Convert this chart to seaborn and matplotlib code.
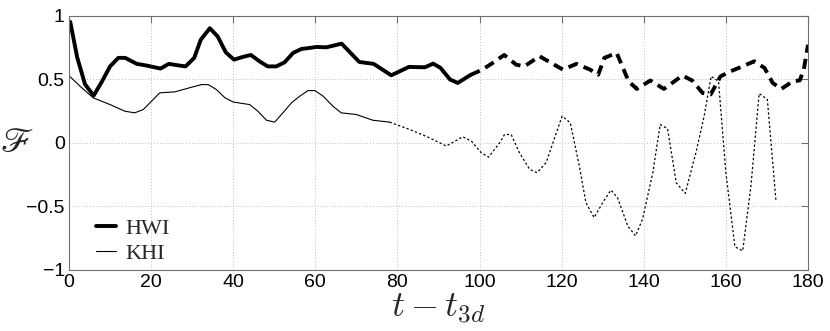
import numpy as np
import pandas as pd
import matplotlib
matplotlib.use("Agg")
import matplotlib.pyplot as plt
import seaborn as sns

# ---- data ----
hwi_t_solid = [0.3, 2.0, 3.9, 6.0, 8.0, 10.0, 12.0, 13.7, 16.5, 19.0, 22.3, 24.3, 26.4, 28.4, 30.5,
               32.1, 34.3, 36.2, 38.2, 40.2, 42.3, 44.3, 46.4, 48.4, 50.5, 52.5, 54.6, 56.6, 58.6,
               60.3, 62.7, 66.4, 70.7, 74.2, 78.5, 82.8, 86.7, 88.7, 90.5, 92.8, 94.7, 97.8]
hwi_y_solid = [0.95, 0.67, 0.46, 0.37, 0.48, 0.60, 0.667, 0.667, 0.62, 0.606, 0.583, 0.62, 0.609, 0.60, 0.667,
               0.81, 0.90, 0.836, 0.71, 0.653, 0.674, 0.69, 0.64, 0.60, 0.60, 0.632, 0.706, 0.737, 0.745,
               0.753, 0.75, 0.779, 0.635, 0.62, 0.53, 0.596, 0.593, 0.622, 0.588, 0.497, 0.47, 0.533]

hwi_t_dash = [97.8, 100.7, 103.2, 106.0, 108.9, 110.9, 114.6, 117.4, 120.3, 123.6, 126.9, 128.9, 130.4,
              133.4, 136.3, 138.3, 141.6, 144.9, 149.4, 151.8, 154.3, 156.3, 158.7, 161.2, 164.0, 166.9,
              169.4, 171.4, 173.5, 176.3, 178.0, 179.0, 180.0]
hwi_y_dash = [0.533, 0.575, 0.627, 0.69, 0.614, 0.60, 0.68, 0.628, 0.575, 0.62, 0.575, 0.535, 0.667,
              0.706, 0.483, 0.423, 0.489, 0.423, 0.528, 0.489, 0.392, 0.38, 0.522, 0.562, 0.60, 0.64,
              0.588, 0.47, 0.423, 0.483, 0.49, 0.58, 0.77]

khi_t_solid = [0.3, 2.7, 5.9, 10.0, 13.6, 16.0, 18.1, 22.1, 25.8, 29.8, 32.3, 33.9, 35.9, 38.0, 40.0,
               44.0, 46.0, 48.1, 50.1, 52.1, 54.2, 56.2, 58.2, 59.9, 61.9, 64.3, 66.3, 70.0, 74.0, 78.1]
khi_y_solid = [0.518, 0.444, 0.353, 0.30, 0.248, 0.235, 0.261, 0.392, 0.40, 0.436, 0.457, 0.457, 0.418, 0.353, 0.32,
               0.30, 0.248, 0.177, 0.162, 0.235, 0.314, 0.366, 0.41, 0.41, 0.366, 0.287, 0.235, 0.222, 0.177, 0.162]

khi_t_dot = [78.1, 83.0, 87.8, 91.9, 95.9, 98.0, 100.4, 102.2, 104.9, 106.1, 107.7, 109.7, 112.2, 114.0,
             116.2, 120.1, 122.1, 124.3, 125.9, 127.9, 130.0, 132.0, 133.6, 136.1, 138.0, 139.7, 142.2,
             144.0, 145.8, 147.9, 150.1, 152.7, 154.7, 156.4, 158.2, 160.0, 162.2, 164.1, 166.1, 168.1,
             170.1, 172.2]
khi_y_dot = [0.162, 0.104, 0.039, -0.026, 0.047, 0.013, -0.078, -0.113, 0.0, 0.065, 0.065, -0.078, -0.209, -0.235,
             -0.157, 0.209, 0.157, -0.183, -0.47, -0.588, -0.47, -0.372, -0.431, -0.654, -0.732, -0.60, -0.235,
             0.144, 0.11, -0.314, -0.398, -0.078, 0.209, 0.522, 0.483, -0.235, -0.818, -0.849, -0.34, 0.387,
             0.34, -0.458]

x_ticks = [0, 20, 40, 60, 80, 100, 120, 140, 160, 180]
y_ticks = [-1, -0.5, 0, 0.5, 1]
y_ticklabels = ["\u22121", "\u22120.5", "0", "0.5", "1"]

# ---- style ----
sns.set_style("white")
plt.rcParams["font.family"] = ["Liberation Sans", "DejaVu Sans"]
plt.rcParams["mathtext.fontset"] = "cm"

fig = plt.figure(figsize=(8.30, 3.31), dpi=100)
ax = fig.add_axes([69 / 830, 1 - 270 / 331, (808 - 69) / 830, (270 - 15.5) / 331])

common = dict(ax=ax, color="black", sort=False, estimator=None, legend=False)
sns.lineplot(x=hwi_t_solid, y=hwi_y_solid, lw=2.8, linestyle="-", **common)
sns.lineplot(x=khi_t_solid, y=khi_y_solid, lw=0.8, linestyle="-", **common)
sns.lineplot(x=hwi_t_dash, y=hwi_y_dash, lw=2.8, linestyle=(0, (2.6, 1.6)), **common)
sns.lineplot(x=khi_t_dot, y=khi_y_dot, lw=0.9, linestyle=(0, (1.8, 1.8)), **common)

ax.set_xlim(0, 180)
ax.set_ylim(-1, 1)
ax.set_xticks(x_ticks)
ax.set_xticklabels([str(v) for v in x_ticks])
ax.set_yticks(y_ticks)
ax.set_yticklabels(y_ticklabels)

ax.grid(True, linestyle=(0, (1, 2)), color="#bdbdbd", linewidth=0.7)
for s in ax.spines.values():
    s.set_visible(True)
    s.set_color("#707070")
    s.set_linewidth(0.8)
ax.tick_params(direction="in", length=5, width=0.8, color="#707070",
               top=True, right=True, labelsize=14, pad=3, labelcolor="black")

ax.set_xlabel(r"$t - t_{3d}$", fontsize=26, labelpad=0)
yl = ax.set_ylabel(r"$\mathscr{F}$", fontsize=25, rotation=0, ha="center", va="center")
yl.set_math_fontfamily("stix")
ax.yaxis.set_label_coords(-0.0704, 0.50)

handles = [ax.lines[0], ax.lines[1]]
leg = ax.legend(handles, ["HWI", "KHI"], loc="lower left", bbox_to_anchor=(0.025, -0.012),
                frameon=False, handlelength=0.9, handletextpad=0.4, labelspacing=0.2,
                borderaxespad=0.0,
                prop={"family": "Liberation Serif", "size": 16})

fig.savefig("out.png", dpi=100)
